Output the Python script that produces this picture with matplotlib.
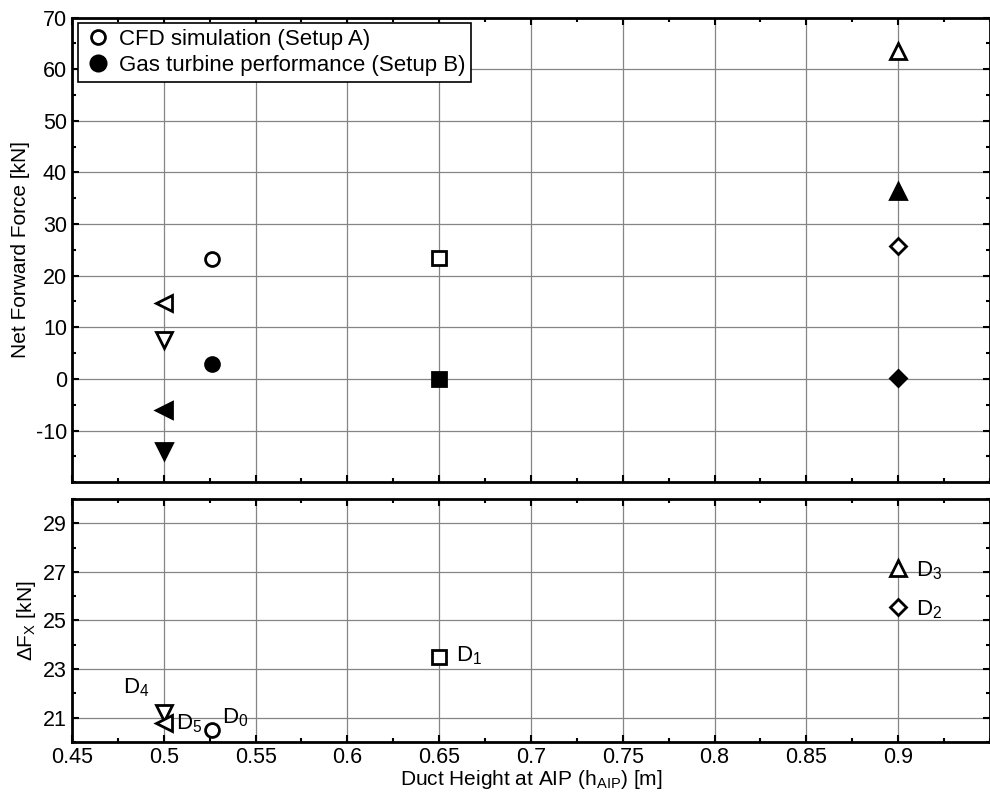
import matplotlib
matplotlib.use("Agg")
import matplotlib.pyplot as plt
from matplotlib.ticker import MultipleLocator, FixedLocator

plt.rcParams['font.family'] = ['Liberation Sans', 'DejaVu Sans']
plt.rcParams['mathtext.fontset'] = 'custom'
plt.rcParams['mathtext.rm'] = 'Liberation Sans'
plt.rcParams['mathtext.it'] = 'Liberation Sans'
plt.rcParams['axes.unicode_minus'] = False
plt.rcParams['font.size'] = 15

# duct designs D0..D5
designs = ["D0", "D1", "D2", "D3", "D4", "D5"]
h_aip = [0.526, 0.65, 0.9, 0.9, 0.5, 0.5]
markers = ["o", "s", "D", "^", "v", "<"]
f_cfd = [23.2, 23.5, 25.7, 63.5, 7.5, 14.8]        # Setup A
f_gt = [2.8, 0.0, 0.2, 36.4, -13.9, -6.1]          # Setup B
delta_fx = [20.5, 23.5, 25.55, 27.15, 21.2, 20.8]
label_x = [0.539, 0.666, 0.917, 0.917, 0.485, 0.514]
label_y = [21.0, 23.55, 25.45, 27.05, 22.25, 20.75]
subs = ["0", "1", "2", "3", "4", "5"]

msize = {"o": 10, "s": 10, "D": 8, "^": 11, "v": 11, "<": 11}

fig = plt.figure(figsize=(9.9, 7.97), dpi=100)
ax1 = fig.add_axes([0.0727, 0.395, 0.9273, 0.583])
ax2 = fig.add_axes([0.0727, 0.069, 0.9273, 0.305])

for i in range(len(designs)):
    m = markers[i]
    ax1.plot(h_aip[i], f_cfd[i], m, ms=msize[m], mfc="white", mec="black", mew=2, zorder=5)
    ax1.plot(h_aip[i], f_gt[i], m, ms=msize[m], mfc="black", mec="black", mew=2, zorder=5)
    ax2.plot(h_aip[i], delta_fx[i], m, ms=msize[m], mfc="white", mec="black", mew=2, zorder=5)
    ax2.text(label_x[i], label_y[i], "D$_{" + subs[i] + "}$", fontsize=16,
             ha="center", va="center")

# legend handles
ax1.plot([], [], "o", ms=10, mfc="white", mec="black", mew=2, label="CFD simulation (Setup A)")
ax1.plot([], [], "o", ms=11, mfc="black", mec="black", mew=2, label="Gas turbine performance (Setup B)")
leg = ax1.legend(loc="upper left", fancybox=False, framealpha=1, edgecolor="black",
                 fontsize=16, handletextpad=0.3, borderpad=0.25, labelspacing=0.25,
                 handlelength=1.3, borderaxespad=0.25)
leg.get_frame().set_linewidth(1.2)

for ax in (ax1, ax2):
    ax.set_xlim(0.45, 0.95)
    ax.xaxis.set_major_locator(FixedLocator([0.45, 0.5, 0.55, 0.6, 0.65, 0.7, 0.75, 0.8, 0.85, 0.9]))
    ax.xaxis.set_minor_locator(MultipleLocator(0.025))
    ax.grid(True, which="major", color="#858585", lw=0.9)
    ax.tick_params(which="both", direction="in", top=True, right=True, width=1.5)
    ax.tick_params(which="major", length=5, labelsize=15.5)
    ax.tick_params(which="minor", length=3)
    for s in ax.spines.values():
        s.set_linewidth(2)

ax1.set_ylim(-20, 70)
ax1.set_yticks([-10, 0, 10, 20, 30, 40, 50, 60, 70])
ax1.yaxis.set_minor_locator(MultipleLocator(5))
ax1.tick_params(labelbottom=False)
ax1.set_ylabel("Net Forward Force [kN]", fontsize=15)

ax2.set_ylim(20, 30)
ax2.set_yticks([21, 23, 25, 27, 29])
ax2.yaxis.set_minor_locator(MultipleLocator(1))
ax2.set_ylabel("ΔF$_X$ [kN]", fontsize=15)
ax2.set_xlabel("Duct Height at AIP (h$_{AIP}$) [m]", fontsize=15, labelpad=0)
ax2.set_xticklabels(["0.45", "0.5", "0.55", "0.6", "0.65", "0.7", "0.75", "0.8", "0.85", "0.9"])

fig.align_ylabels([ax1, ax2])
fig.savefig("out.png", dpi=100)
